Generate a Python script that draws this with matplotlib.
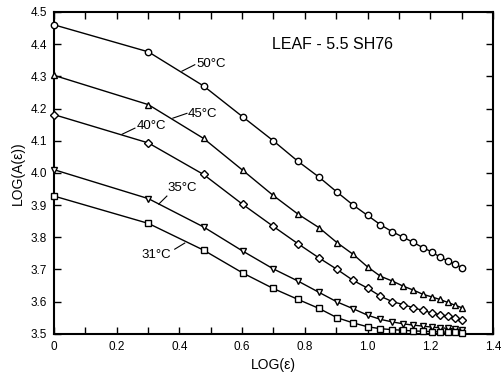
import matplotlib.pyplot as plt
from matplotlib.ticker import MultipleLocator, FuncFormatter

plt.rcParams['font.family'] = ['Liberation Sans', 'DejaVu Sans']

# x positions (log strain) shared by all curves
log_eps = [0, 0.301, 0.477, 0.602, 0.699, 0.778, 0.845, 0.903, 0.954, 1.0,
           1.041, 1.079, 1.114, 1.146, 1.176, 1.204, 1.230, 1.255, 1.279, 1.301]

t50 = [4.46, 4.376, 4.27, 4.174, 4.10, 4.036, 3.987, 3.94, 3.90, 3.868,
       3.839, 3.817, 3.80, 3.784, 3.768, 3.755, 3.739, 3.727, 3.716, 3.706]
t45 = [4.303, 4.212, 4.107, 4.008, 3.93, 3.872, 3.83, 3.783, 3.747, 3.708,
       3.679, 3.664, 3.648, 3.636, 3.623, 3.615, 3.607, 3.598, 3.589, 3.581]
t40 = [4.181, 4.093, 3.995, 3.902, 3.834, 3.78, 3.736, 3.70, 3.666, 3.642,
       3.617, 3.60, 3.591, 3.581, 3.573, 3.565, 3.56, 3.555, 3.55, 3.543]
t35 = [4.01, 3.92, 3.832, 3.757, 3.702, 3.664, 3.629, 3.599, 3.578, 3.558,
       3.545, 3.537, 3.531, 3.527, 3.524, 3.521, 3.519, 3.517, 3.515, 3.513]
t31 = [3.928, 3.843, 3.76, 3.689, 3.641, 3.607, 3.579, 3.55, 3.534, 3.522,
       3.516, 3.513, 3.511, 3.509, 3.508, 3.507, 3.506, 3.505, 3.505, 3.504]

series = [
    ("50°C", t50, "o", 4.6),
    ("45°C", t45, "^", 5.0),
    ("40°C", t40, "D", 3.8),
    ("35°C", t35, "v", 5.0),
    ("31°C", t31, "s", 4.2),
]

# label text position, leader start (on curve), leader end (near text)
labels = {
    "50°C": ((0.455, 4.338), (0.408, 4.316), (0.449, 4.336)),
    "45°C": ((0.427, 4.182), (0.379, 4.170), (0.424, 4.185)),
    "40°C": ((0.264, 4.145), (0.217, 4.120), (0.258, 4.139)),
    "35°C": ((0.362, 3.952), (0.334, 3.903), (0.360, 3.928)),
    "31°C": ((0.280, 3.744), (0.417, 3.782), (0.385, 3.763)),
}

fig = plt.figure(figsize=(5.02, 3.73), dpi=100)
ax = fig.add_axes([0.1076, 0.105, 0.8744, 0.863])

for name, vals, mk, ms in series:
    ax.plot(log_eps, vals, color="black", lw=1.0, marker=mk, ms=ms,
            mfc="white", mec="black", mew=1.0, clip_on=False, zorder=3)

for name, (txt, p0, p1) in labels.items():
    ax.text(txt[0], txt[1], name, fontsize=9.5, ha="left", va="center")
    ax.plot([p0[0], p1[0]], [p0[1], p1[1]], color="black", lw=0.8)

ax.text(0.694, 4.40, "LEAF - 5.5 SH76", fontsize=11.5, ha="left", va="center")

ax.set_xlim(0, 1.4)
ax.set_ylim(3.5, 4.5)
ax.xaxis.set_major_locator(MultipleLocator(0.2))
ax.xaxis.set_minor_locator(MultipleLocator(0.1))
ax.yaxis.set_major_locator(MultipleLocator(0.1))
ax.xaxis.set_major_formatter(FuncFormatter(lambda v, p: "0" if abs(v) < 1e-9 else f"{v:.1f}"))
ax.yaxis.set_major_formatter(FuncFormatter(lambda v, p: f"{v:.1f}"))
ax.tick_params(which="both", direction="in", top=True, right=True,
               length=5, width=1.0, labelsize=8.5, pad=5)

for sp in ax.spines.values():
    sp.set_linewidth(1.5)

ax.set_xlabel("LOG(ε)", fontsize=10, labelpad=4)
ax.set_ylabel("LOG(A(ε))", fontsize=10, labelpad=4)

fig.savefig("out.png", dpi=100)
